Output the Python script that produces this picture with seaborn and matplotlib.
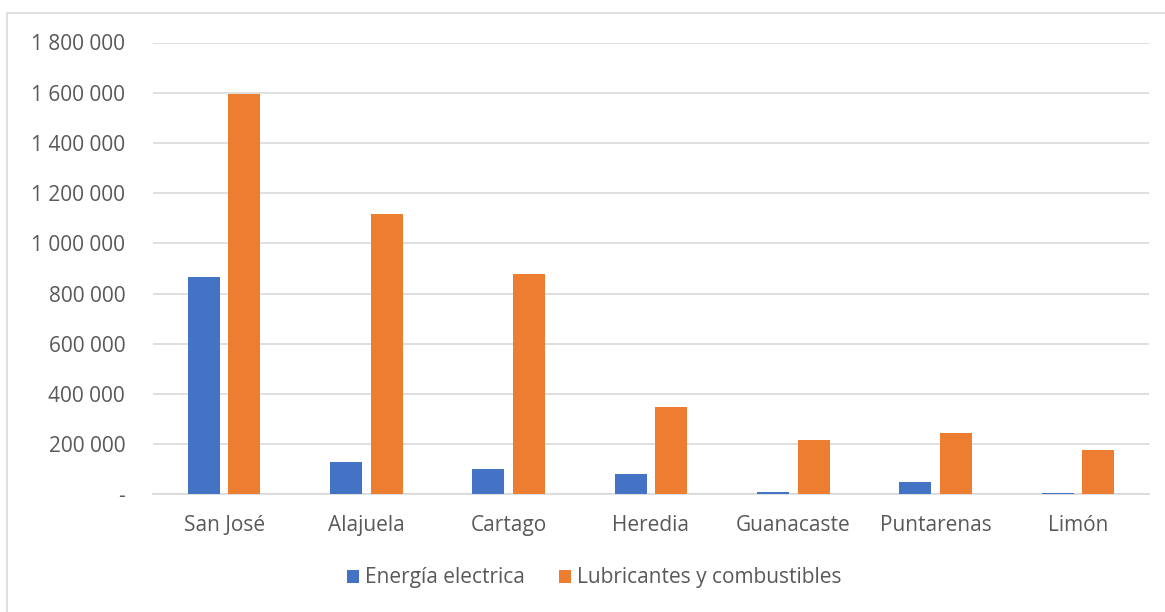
import matplotlib
matplotlib.use("Agg")
import matplotlib.pyplot as plt
import matplotlib.ticker as mticker
from matplotlib.patches import Rectangle
import pandas as pd
import seaborn as sns

provincias = ["San José", "Alajuela", "Cartago", "Heredia", "Guanacaste", "Puntarenas", "Limón"]
energia_electrica = [865000, 127000, 100000, 81000, 8000, 48000, 6000]
lubricantes_combustibles = [1595000, 1118000, 879000, 348000, 216000, 245000, 175000]
series = ["Energía electrica", "Lubricantes y combustibles"]
colores = ["#4472C4", "#ED7D31"]
y_ticks = [0, 200000, 400000, 600000, 800000, 1000000, 1200000, 1400000, 1600000, 1800000]

df = pd.DataFrame({
    "provincia": provincias * 2,
    "serie": [series[0]] * len(provincias) + [series[1]] * len(provincias),
    "valor": energia_electrica + lubricantes_combustibles,
})

sns.set_theme(style="white")
plt.rcParams["font.family"] = ["Open Sans", "DejaVu Sans"]
text_color = "#595959"

fig = plt.figure(figsize=(11.65, 6.12), dpi=100)
ax = fig.add_axes([153 / 1165, 1 - 494.3 / 612, (1149 - 153) / 1165, 451.8 / 612])

sns.barplot(data=df, x="provincia", y="valor", hue="serie", order=provincias,
            hue_order=series, palette=colores, width=0.57, gap=0.21,
            saturation=1, ax=ax, legend=True, edgecolor="none")

ax.set_ylim(0, 1800000)
ax.set_xlim(-0.5, len(provincias) - 0.5)
ax.set_yticks(y_ticks)


def fmt(v, pos):
    if v == 0:
        return "-"
    return f"{int(v):,}".replace(",", " ")


ax.yaxis.set_major_formatter(mticker.FuncFormatter(fmt))
ax.grid(axis="y", color="#d9d9d9", linewidth=1.2)
ax.set_axisbelow(True)
for s in ["top", "right", "left"]:
    ax.spines[s].set_visible(False)
ax.spines["bottom"].set_color("#d9d9d9")
ax.spines["bottom"].set_linewidth(1.2)
ax.spines["bottom"].set_zorder(0.5)
ax.tick_params(axis="both", length=0, labelsize=15, colors=text_color)
ax.tick_params(axis="y", pad=20)
ax.tick_params(axis="x", pad=15)
ax.set_xlabel("")
ax.set_ylabel("")

leg = ax.legend(loc="center", bbox_to_anchor=(0.443, (494.3 - 578) / 451.8), ncol=2,
                frameon=False, fontsize=15, handlelength=0.6, handleheight=0.6,
                handletextpad=0.3, columnspacing=1.6, labelcolor=text_color)

fig.patches.append(Rectangle((7 / 1165, -0.1), 1.2, 1 - 13 / 612 + 0.1,
                             transform=fig.transFigure, fill=False,
                             edgecolor="#d9d9d9", linewidth=1.2))

fig.savefig("out.png", dpi=100, facecolor="white")
